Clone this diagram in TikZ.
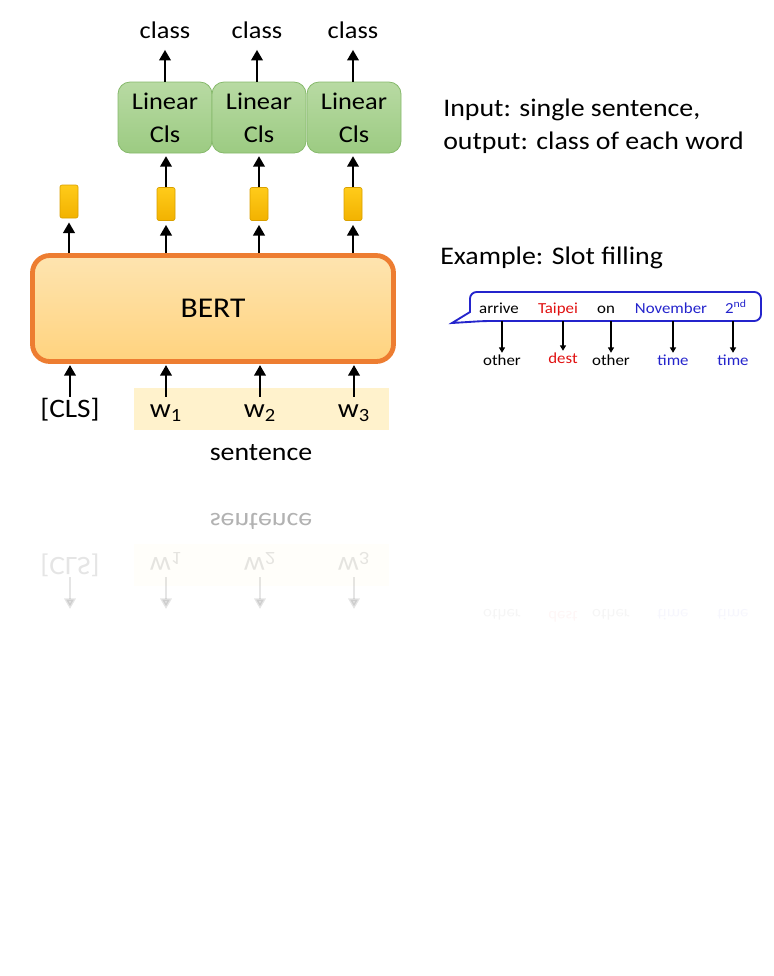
\documentclass[tikz,border=0pt]{standalone}
\usepackage{fontspec}
\setmainfont{Carlito}[FakeStretch=1.1]
\usetikzlibrary{arrows.meta}
\definecolor{bertline}{HTML}{ED7D31}
\definecolor{bertlight}{HTML}{FEE4B0}
\definecolor{bertdark}{HTML}{FFD37E}
\definecolor{vecline}{HTML}{D9A000}
\definecolor{veclight}{HTML}{FFCB1A}
\definecolor{vecdark}{HTML}{F2B200}
\definecolor{clsline}{HTML}{86B96B}
\definecolor{clslight}{HTML}{B8DAA3}
\definecolor{clsdark}{HTML}{9CCB82}
\definecolor{sentyellow}{HTML}{FFF2CC}
\definecolor{slotblue}{HTML}{2424CC}
\definecolor{slotred}{HTML}{E01010}
\begin{document}
\begin{tikzpicture}[x=0.75pt,y=-0.75pt,
  >={Triangle[length=8pt,width=8.5pt]},
  every node/.style={font=\fontsize{18}{22}\selectfont},
  bert/.style={draw=bertline, line width=3.6pt, rounded corners=13pt,
    top color=bertlight, bottom color=bertdark,
    minimum width=270.75pt, minimum height=79.5pt,
    font=\fontsize{21.5}{24}\selectfont},
  vec/.style={draw=vecline, line width=0.5pt, rounded corners=1.5pt,
    top color=veclight, bottom color=vecdark,
    minimum width=13.5pt, minimum height=24.75pt, inner sep=0pt},
  lincls/.style={draw=clsline, line width=0.6pt, rounded corners=9pt,
    top color=clslight, bottom color=clsdark, align=center, inner sep=0pt,
    minimum width=70.5pt, minimum height=53.25pt,
    font=\fontsize{18}{24.75}\selectfont},
  inp/.style={anchor=base, inner sep=0pt, text height=15pt,
    font=\fontsize{20}{24}\selectfont},
  big/.style={font=\fontsize{19}{23}\selectfont},
  sentlabel/.style={big},
  slot/.style={anchor=base, inner sep=1pt, font=\fontsize{11.5}{14}\selectfont},
  arr/.style={->, line width=2.2pt},
  slotarr/.style={-{Triangle[length=4pt,width=4.5pt]}, line width=0.9pt},
]
\useasboundingbox (0,0) rectangle (774,976);

   \newcommand{\inputrow}{
        \fill[color=sentyellow] (134,388) rectangle (389,430);
        \coordinate (foot) at (0,365);
        \node[inp] (cls) at (70,417) {[CLS]};
        \node[inp] (w1) at (166,417) {w\textsubscript{1}};
        \node[inp] (w2) at (260,417) {w\textsubscript{2}};
        \node[inp] (w3) at (354,417) {w\textsubscript{3}};
        \node[sentlabel] (sent) at (261,453) {sentence};
        \draw[arr] (cls.north) -- (cls.north |- foot);
        \draw[arr] (w1.north) -- (w1.north |- foot);
        \draw[arr] (w2.north) -- (w2.north |- foot);
        \draw[arr] (w3.north) -- (w3.north |- foot);
    }
    \newcommand{\slottags}{
        \node[slot] (t1) at (502,365) {other};
        \node[slot, color=slotred] (t2) at (563,363) {dest};
        \node[slot] (t3) at (611,365) {other};
        \node[slot, color=slotblue] (t4) at (673,365) {time};
        \node[slot, color=slotblue] (t5) at (733,365) {time};
    }

% BERT and its outputs
\node[bert] (bert) at (213,308.5) {BERT};

\node[vec] (v0) at (69,201.5) {};
\node[vec] (v1) at (166,204) {};
\node[vec] (v2) at (259,204) {};
\node[vec] (v3) at (353,204) {};

\draw[arr, shorten >=3pt] (v0.south |- bert.north) -- (v0.south);
\draw[arr, shorten >=3pt] (v1.south |- bert.north) -- (v1.south);
\draw[arr, shorten >=3pt] (v2.south |- bert.north) -- (v2.south);
\draw[arr, shorten >=3pt] (v3.south |- bert.north) -- (v3.south);

\node[lincls] (g1) at (165,117.5) {Linear\\Cls};
\node[lincls] (g2) at (259,117.5) {Linear\\Cls};
\node[lincls] (g3) at (354,117.5) {Linear\\Cls};

\draw[arr, shorten >=2pt] (v1.north) -- (v1.north |- g1.south);
\draw[arr, shorten >=2pt] (v2.north) -- (v2.north |- g2.south);
\draw[arr, shorten >=2pt] (v3.north) -- (v3.north |- g3.south);

\node (c1) at (165,30) {class};
\node (c2) at (257,30) {class};
\node (c3) at (353,30) {class};

\draw[arr, shorten >=5pt] (g1.north) -- (c1.south);
\draw[arr, shorten >=5pt] (g2.north -| c2) -- (c2.south);
\draw[arr, shorten >=5pt] (g3.north -| c3) -- (c3.south);

% input tokens
\inputrow

% task text
\node[big, anchor=base west, inner sep=0pt] (task) at (443,116) {Input: single sentence,};
\node[big, anchor=base west, inner sep=0pt] (taskb) at (443,149) {output: class of each word};
\node[big, anchor=base west, inner sep=0pt] (example) at (440,264) {Example: Slot filling};

% slot filling callout
\draw[color=slotblue, line width=1.4pt] (470,312) [rounded corners=5pt] -- (470,292) -- (761,292)
  -- (761,321) -- (484,321) [sharp corners] -- (452,323) -- cycle;
\coordinate (slotfoot) at (0,321);
\node[slot] (a1) at (499,313) {arrive};
\node[slot, color=slotred] (a2) at (558,313) {Taipei};
\node[slot] (a3) at (606,313) {on};
\node[slot, color=slotblue] (a4) at (671,313) {November};
\node[slot, color=slotblue] (a5) at (736,313) {2\textsuperscript{nd}};

\slottags
\draw[slotarr] (t1.north |- slotfoot) -- (t1.north);
\draw[slotarr] (t2.north |- slotfoot) -- (t2.north);
\draw[slotarr] (t3.north |- slotfoot) -- (t3.north);
\draw[slotarr] (t4.north |- slotfoot) -- (t4.north);
\draw[slotarr] (t5.north |- slotfoot) -- (t5.north);

% faint mirror image
\begin{scope}[shift={(0,974)}, yscale=-1, transform shape, opacity=0.1, name prefix=m-,
  sentlabel/.style={big, opacity=0.3}]
  \inputrow
\end{scope}
\begin{scope}[shift={(0,974)}, yscale=-1, transform shape, opacity=0.04, name prefix=n-]
  \slottags
\end{scope}
\end{tikzpicture}
\end{document}
